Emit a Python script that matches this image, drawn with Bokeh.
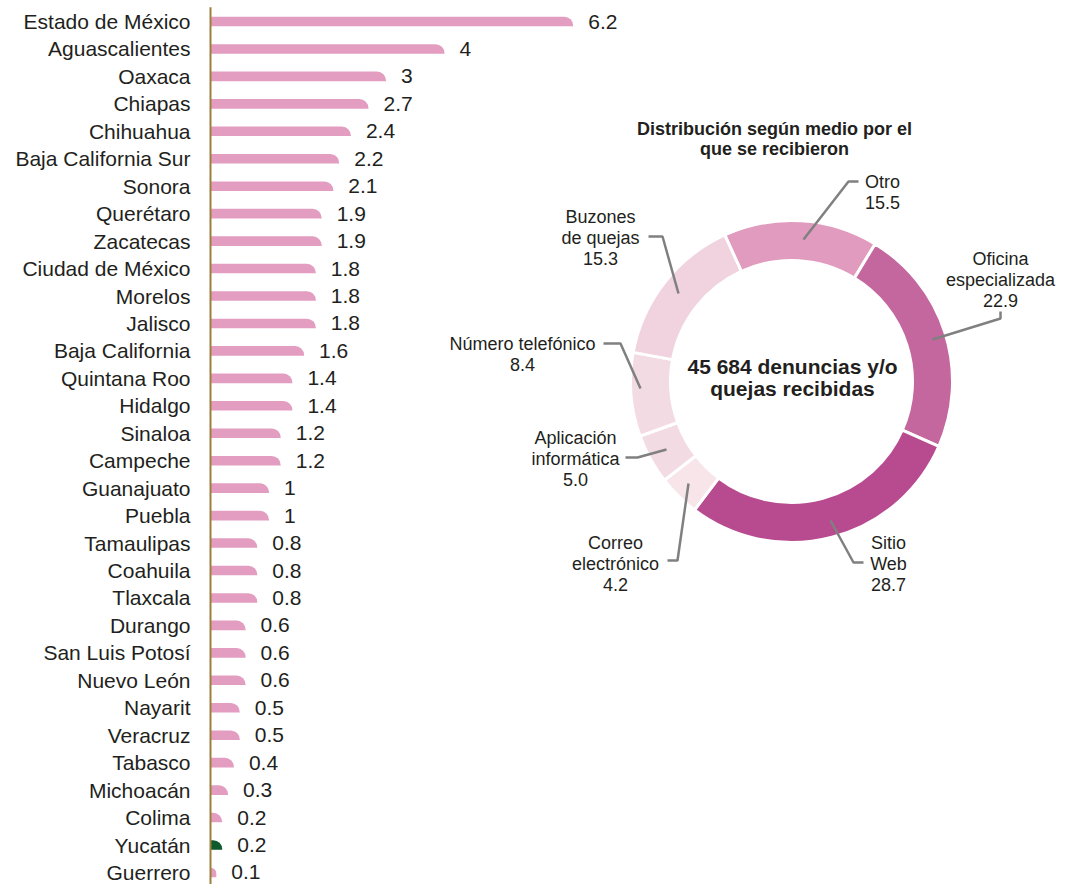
import numpy as np
from bokeh.plotting import figure
from bokeh.models import Range1d, ColumnDataSource
from bokeh.core.properties import value
from bokeh.embed import file_html
from bokeh.resources import INLINE

# ---------------- data ----------------
states = ["Estado de México", "Aguascalientes", "Oaxaca", "Chiapas", "Chihuahua",
          "Baja California Sur", "Sonora", "Querétaro", "Zacatecas", "Ciudad de México",
          "Morelos", "Jalisco", "Baja California", "Quintana Roo", "Hidalgo", "Sinaloa",
          "Campeche", "Guanajuato", "Puebla", "Tamaulipas", "Coahuila", "Tlaxcala",
          "Durango", "San Luis Potosí", "Nuevo León", "Nayarit", "Veracruz", "Tabasco",
          "Michoacán", "Colima", "Yucatán", "Guerrero"]
state_values = [6.2, 4, 3, 2.7, 2.4, 2.2, 2.1, 1.9, 1.9, 1.8, 1.8, 1.8, 1.6, 1.4, 1.4,
                1.2, 1.2, 1, 1, 0.8, 0.8, 0.8, 0.6, 0.6, 0.6, 0.5, 0.5, 0.4, 0.3, 0.2,
                0.2, 0.1]
highlight_state = "Yucatán"

medios = ["Otro", "Oficina especializada", "Sitio Web", "Correo electrónico",
          "Aplicación informática", "Número telefónico", "Buzones de quejas"]
medio_values = [15.5, 22.9, 28.7, 4.2, 5.0, 8.4, 15.3]
medio_label_lines = [["Otro"], ["Oficina", "especializada"], ["Sitio", "Web"],
                     ["Correo", "electrónico"], ["Aplicación", "informática"],
                     ["Número telefónico"], ["Buzones", "de quejas"]]
medio_colors = ["#e09bbf", "#c4679f", "#b84b8f", "#f7e5ea", "#f3dbe3", "#f3dbe3", "#f0d3de"]

donut_title = ["Distribución según medio por el", "que se recibieron"]
center_text = ["45 684 denuncias y/o", "quejas recibidas"]

W, H = 1066, 884
FONT = "Liberation Sans"
TXT = "#231f20"

# ---------------- figure ----------------
n = len(states)
px_unit = 58.5
x0_px = 210
row0, row_step = 21, 27.45
x_start = -x0_px / px_unit
x_end = (W - x0_px) / px_unit
y_top = (n - 1) + row0 / row_step
y_bot = (n - 1) - (H - row0) / row_step

p = figure(width=W, height=H, output_backend="svg", toolbar_location=None,
           x_range=Range1d(x_start, x_end), y_range=Range1d(y_bot, y_top),
           min_border=0, outline_line_color=None)
p.xaxis.visible = False
p.yaxis.visible = False
p.xgrid.visible = False
p.ygrid.visible = False
p.background_fill_color = "white"
p.border_fill_color = "white"

ypos = [n - 1 - i for i in range(n)]
colors = ["#0d5a2c" if s == highlight_state else "#e29dc1" for s in states]
src = ColumnDataSource(dict(y=ypos, v=state_values, name=states, color=colors,
                            lab=[f"{v:g}" for v in state_values]))

p.hbar(y="y", left=0, right="v", height=0.35, fill_color="color", line_color=None,
       source=src, border_radius=(0, 9, 0, 0))

# axis line
p.segment(x0=[0], x1=[0], y0=[y_bot], y1=[y_top - 0.25], line_color="#9c7f3c", line_width=2)

p.text(x=0, y="y", text="name", source=src, x_offset=-20, text_align="right",
       text_baseline="middle", text_font=value(FONT), text_font_size="21px", text_color=TXT)
p.text(x="v", y="y", text="lab", source=src, x_offset=15, text_align="left",
       text_baseline="middle", text_font=value(FONT), text_font_size="21px", text_color=TXT)

# ---------------- donut (pixel-space extra ranges) ----------------
p.extra_x_ranges = {"px": Range1d(0, W)}
p.extra_y_ranges = {"px": Range1d(H, 0)}

cx, cy = 791, 381
r_in, r_out = 121, 161
start_cw = -24.5
vals = np.array(medio_values)
cum = np.concatenate([[0], np.cumsum(vals)]) / vals.sum() * 360.0 + start_cw
s_cw, e_cw = cum[:-1], cum[1:]
start_ang = np.radians(90 - e_cw)
end_ang = np.radians(90 - s_cw)

p.annular_wedge(x=cx, y=cy, inner_radius=r_in, outer_radius=r_out,
                start_angle=start_ang, end_angle=end_ang,
                fill_color=medio_colors, line_color="white", line_width=3,
                x_range_name="px", y_range_name="px")

leaders_x = [[803, 848, 858], [932, 1000, 1000], [830, 853, 863], [688, 677, 667],
             [666, 637, 625], [640, 620, 603], [678, 662, 648]]
leaders_y = [[239, 181, 181], [339, 318, 311], [520, 562, 562], [483, 560, 560],
             [449, 457, 457], [388, 343, 343], [293, 236, 236]]
p.multi_line(xs=leaders_x, ys=leaders_y, line_color="#808080", line_width=2.5,
             x_range_name="px", y_range_name="px")

label_pos = [(882, 181), (1000, 258), (888, 542), (615, 542), (575, 437), (522, 343), (600, 216)]
lx, ly, lt = [], [], []
for lines, v, (ax, ay) in zip(medio_label_lines, medio_values, label_pos):
    for k, t in enumerate(lines + [f"{v:.1f}"]):
        lx.append(ax)
        ly.append(ay + 21 * k)
        lt.append(t)
p.text(x=lx, y=ly, text=lt, text_align="center", text_baseline="middle",
       text_font=value(FONT), text_font_size="18px", text_color=TXT,
       x_range_name="px", y_range_name="px")

p.text(x=[774, 774], y=[128, 148], text=donut_title, text_align="center",
       text_baseline="middle", text_font=value(FONT), text_font_size="18px",
       text_font_style="bold", text_color=TXT, x_range_name="px", y_range_name="px")
p.text(x=[792, 792], y=[366, 388], text=center_text, text_align="center",
       text_baseline="middle", text_font=value(FONT), text_font_size="21px",
       text_font_style="bold", text_color=TXT, x_range_name="px", y_range_name="px")

open("out.html", "w").write(file_html(p, INLINE))
